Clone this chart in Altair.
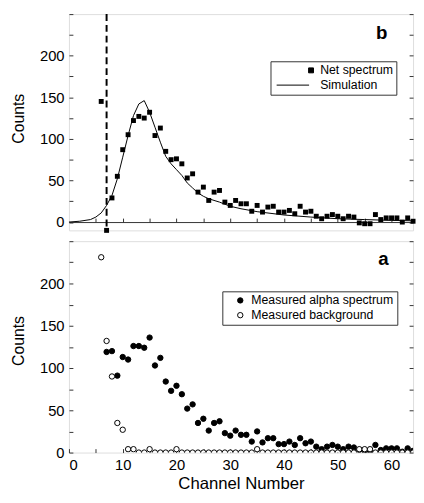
import altair as alt
import pandas as pd

# ---------------- data ----------------
net_channel = list(range(6, 65))
net_counts = [145, -10, 29, 55, 87, 105, 122, 127, 125, 132,
              104, 113, 85, 75, 76, 70, 53, 58, 36, 42,
              26, 36, 38, 24, 20, 26, 22, 22, 13, 20,
              12, 18, 19, 12, 12, 14, 10, 19, 12, 13,
              7, 4, 7, 9, 7, 4, 7, 6, -1, -2,
              -2, 9, 3, 5, 5, 5, 0, 5, 1]

sim_channel = [0, 2, 4, 5, 6, 7, 8, 9, 10, 11, 12, 13, 14, 15, 16, 17, 18, 19, 20, 21,
               22, 23, 24, 25, 26, 28, 30, 32, 35, 40, 45, 50, 55, 60, 64]
sim_counts = [0, 1, 3, 6, 11, 20, 32, 52, 78, 104, 128, 142, 146, 132, 114, 96, 79, 70, 63, 56,
              47, 41, 35, 31, 28, 24, 19, 16, 12.5, 8.5, 6, 4, 3, 2, 1.5]

alpha_channel = list(range(7, 65))
alpha_counts = [119, 120, 91, 113, 110, 126, 126, 124, 136, 103,
                112, 84, 73, 79, 69, 52, 57, 35, 40, 26,
                35, 37, 23, 20, 26, 21, 21, 13, 25, 12,
                17, 17, 10, 10, 13, 9, 17, 11, 13, 7,
                4, 7, 9, 7, 4, 7, 6, 3, 2, 2,
                9, 3, 5, 5, 5, 1, 5, 2]

bg_channel = list(range(6, 65))
bg_counts = [231, 132, 90, 35, 27, 4, 4, 0, 0, 4,
             0, 0, 0, 0, 4, 0, 0, 0, 0, 0,
             0, 0, 0, 0, 0, 0, 0, 0, 0, 4,
             0, 0, 0, 0, 0, 0, 0, 0, 0, 0,
             0, 0, 0, 0, 0, 0, 0, 0, 4, 4,
             4, 0, 0, 0, 0, 0, 0, 0, 0]

threshold_channel = [7]

top_series = ["Net spectrum", "Simulation"]
bot_series = ["Measured alpha spectrum", "Measured background"]
panel_letters = ["b", "a"]

y_label_values = [0, 50, 100, 150, 200]
y_tick_values = list(range(0, 251, 25))
x_label_values = [0, 10, 20, 30, 40, 50, 60]
x_tick_values = list(range(0, 65, 5))

X_DOMAIN = [0, 64]
Y_TOP = [-10, 250]
Y_BOT = [0, 250]

# ---------------- layout / style ----------------
W, H_TOP, H_BOT = 350, 220, 215
GAP = 11
FONT = "Liberation Sans"
FRAME = "#333333"
TICK_FS = 15
TITLE_FS = 16
LEG_FS = 12.5

net_df = pd.DataFrame({"channel": net_channel, "counts": net_counts,
                       "series": [top_series[0]] * len(net_channel)})
sim_df = pd.DataFrame({"channel": sim_channel, "counts": sim_counts,
                       "series": [top_series[1]] * len(sim_channel)})
thr_df = pd.DataFrame({"channel": threshold_channel})
meas_df = pd.concat([
    pd.DataFrame({"channel": alpha_channel, "counts": alpha_counts,
                  "series": [bot_series[0]] * len(alpha_channel)}),
    pd.DataFrame({"channel": bg_channel, "counts": bg_counts,
                  "series": [bot_series[1]] * len(bg_channel)}),
], ignore_index=True)
letter_top = pd.DataFrame({"label": [panel_letters[0]]})
letter_bot = pd.DataFrame({"label": [panel_letters[1]]})


def xscale():
    return alt.Scale(domain=X_DOMAIN, nice=False, zero=False)


def yscale(d):
    return alt.Scale(domain=d, nice=False, zero=False)


def inner_y_ticks(orient):
    return alt.Axis(orient=orient, offset=-W, values=y_tick_values, labels=False,
                    domain=False, ticks=True, tickSize=4, tickColor=FRAME,
                    grid=False, title=None)


def label_y_axis(title_y):
    return alt.Axis(orient="left", values=y_label_values, ticks=False, domain=False,
                    grid=False, labelPadding=5, labelFontSize=TICK_FS, labelFont=FONT,
                    labelColor="black", title="Counts", titleFontSize=TITLE_FS,
                    titleFont=FONT, titleFontWeight="normal", titleColor="black",
                    titlePadding=13, titleY=title_y)


# ---------------- top panel (b) ----------------
zero_pos = H_TOP * (Y_TOP[1] - 0) / (Y_TOP[1] - Y_TOP[0])

shape_scale = alt.Scale(domain=top_series, range=["square", "M-14,0L-0.8,0"])
color_scale = alt.Scale(domain=top_series, range=["black", "black"])
legend_top = alt.Legend(title=None, orient="none", legendX=205, legendY=48,
                        strokeColor=FRAME, fillColor="white", padding=3,
                        labelFontSize=LEG_FS, labelFont=FONT, labelColor="black",
                        symbolSize=25, symbolOffset=32, labelOffset=3, rowPadding=2,
                        symbolStrokeColor="black", symbolStrokeWidth=1)

t_line = alt.Chart(sim_df).mark_line(strokeWidth=1).encode(
    x=alt.X("channel:Q", scale=xscale(), axis=None),
    y=alt.Y("counts:Q", scale=yscale(Y_TOP), axis=inner_y_ticks("right")),
    color=alt.Color("series:N", scale=color_scale, legend=legend_top),
)

t_rule = alt.Chart(thr_df).mark_rule(strokeDash=[7, 4], strokeWidth=2, color="black").encode(
    x=alt.X("channel:Q", scale=xscale(), axis=None),
)

t_points = alt.Chart(net_df).mark_point(filled=True, size=25, opacity=1).encode(
    x=alt.X("channel:Q", scale=xscale(),
            axis=alt.Axis(orient="top", offset=-zero_pos, values=x_tick_values[1:],
                          labels=False, domain=True, domainColor=FRAME, ticks=True,
                          tickSize=4, tickColor=FRAME, grid=False, title=None)),
    y=alt.Y("counts:Q", scale=yscale(Y_TOP), axis=label_y_axis(106)),
    shape=alt.Shape("series:N", scale=shape_scale, legend=legend_top),
    color=alt.Color("series:N", scale=color_scale, legend=legend_top),
)

t_ghost = alt.Chart(net_df).mark_point(opacity=0, clip=True).encode(
    x=alt.X("channel:Q", scale=xscale(), axis=None),
    y=alt.Y("counts:Q", scale=yscale(Y_TOP), axis=inner_y_ticks("left")),
)

t_letter = alt.Chart(letter_top).mark_text(
    align="center", baseline="alphabetic", fontSize=19, fontWeight="bold", font=FONT,
    color="black").encode(x=alt.value(318), y=alt.value(25), text="label:N")

top = alt.layer(t_line, t_rule, t_points, t_ghost, t_letter).resolve_scale(
    x="independent", y="independent").properties(width=W, height=H_TOP)

# ---------------- bottom panel (a) ----------------
# legends of concatenated views live in the root group, whose origin is the top plot's corner
fill_scale = alt.Scale(domain=bot_series, range=["black", "white"])
legend_bot = alt.Legend(title=None, orient="none", legendX=156, legendY=H_TOP + GAP + 51,
                        strokeColor=FRAME, fillColor="white", padding=3,
                        labelFontSize=LEG_FS, labelFont=FONT, labelColor="black",
                        symbolSize=30, symbolOffset=9, labelOffset=5, rowPadding=2,
                        symbolStrokeColor="black", symbolStrokeWidth=1)

b_points = alt.Chart(meas_df).mark_point(shape="circle", size=30, stroke="black",
                                         strokeWidth=1, opacity=1, clip=True).encode(
    x=alt.X("channel:Q", scale=xscale(),
            axis=alt.Axis(orient="bottom", values=x_label_values, ticks=False, domain=False,
                          grid=False, labelPadding=5, labelFontSize=TICK_FS, labelFont=FONT,
                          labelColor="black", title="Channel Number", titleFontSize=17,
                          titleFont=FONT, titleFontWeight="normal", titleColor="black",
                          titlePadding=4)),
    y=alt.Y("counts:Q", scale=yscale(Y_BOT), axis=label_y_axis(101)),
    fill=alt.Fill("series:N", scale=fill_scale, legend=legend_bot),
)

b_ghost1 = alt.Chart(meas_df).mark_point(opacity=0, clip=True).encode(
    x=alt.X("channel:Q", scale=xscale(),
            axis=alt.Axis(orient="top", offset=-H_BOT, values=x_tick_values, labels=False,
                          domain=False, ticks=True, tickSize=4, tickColor=FRAME,
                          grid=False, title=None)),
    y=alt.Y("counts:Q", scale=yscale(Y_BOT), axis=inner_y_ticks("right")),
)

b_ghost2 = alt.Chart(meas_df).mark_point(opacity=0, clip=True).encode(
    x=alt.X("channel:Q", scale=xscale(), axis=None),
    y=alt.Y("counts:Q", scale=yscale(Y_BOT), axis=inner_y_ticks("left")),
)

b_letter = alt.Chart(letter_bot).mark_text(
    align="center", baseline="alphabetic", fontSize=19, fontWeight="bold", font=FONT,
    color="black").encode(x=alt.value(320), y=alt.value(24), text="label:N")

bottom = alt.layer(b_points, b_ghost1, b_ghost2, b_letter).resolve_scale(
    x="independent", y="independent").properties(width=W, height=H_BOT)

chart = alt.VConcatChart(vconcat=[top, bottom], spacing=GAP, bounds="flush").properties(
    padding={"left": 2, "top": 0, "right": 0, "bottom": 0}
).configure_view(stroke=FRAME, strokeWidth=1).configure(font=FONT)

chart.save("out.html", embed_options={"renderer": "svg", "actions": False})
